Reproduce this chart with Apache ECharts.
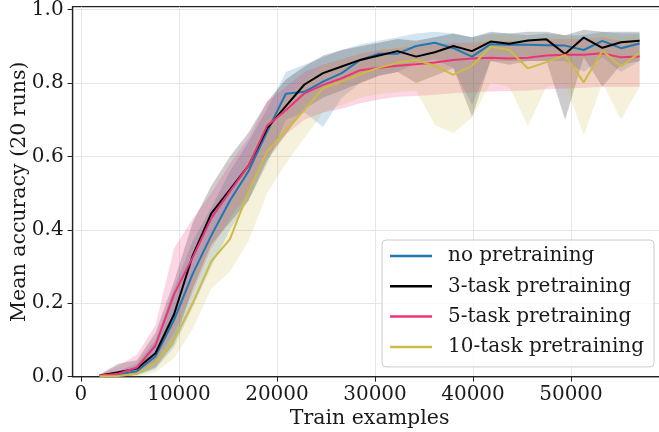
<!DOCTYPE html>
<html><head><meta charset="utf-8">
<script src="https://cdn.jsdelivr.net/npm/echarts@6/dist/echarts.min.js"></script>
<style>html,body{margin:0;padding:0;background:#fff}#c{width:659px;height:432px}</style>
</head><body><div id="c"></div>
<script>
const trainExamples = [1900,3800,5700,7600,9500,11400,13300,15200,17100,19000,20900,22800,24700,26600,28500,30400,32300,34200,36100,38000,39900,41800,43700,45600,47500,49400,51300,53200,55100,57000];
const xTicks = [0,10000,20000,30000,40000,50000];
const yTicks = [0,0.2,0.4,0.6,0.8,1.0];
const seriesNames = ['no pretraining','3-task pretraining','5-task pretraining','10-task pretraining'];

const noPretrainMean = [0.002,0.006,0.015,0.055,0.155,0.280,0.385,0.480,0.560,0.668,0.771,0.776,0.804,0.827,0.863,0.880,0.880,0.901,0.910,0.895,0.872,0.906,0.904,0.904,0.903,0.902,0.890,0.915,0.895,0.908];
const noPretrainHi   = [0.004,0.015,0.035,0.100,0.240,0.370,0.460,0.560,0.640,0.730,0.830,0.850,0.870,0.890,0.905,0.915,0.925,0.935,0.940,0.935,0.925,0.935,0.935,0.930,0.935,0.930,0.930,0.940,0.935,0.935];
const noPretrainLo   = [0.000,0.000,0.003,0.020,0.080,0.190,0.300,0.400,0.480,0.580,0.700,0.720,0.680,0.760,0.800,0.820,0.830,0.855,0.865,0.840,0.740,0.860,0.860,0.860,0.860,0.860,0.830,0.870,0.830,0.860];

const task3Mean = [0.003,0.012,0.022,0.064,0.170,0.330,0.445,0.510,0.575,0.677,0.737,0.796,0.827,0.845,0.863,0.875,0.887,0.872,0.884,0.901,0.887,0.913,0.907,0.916,0.919,0.879,0.924,0.896,0.911,0.915];
const task3Hi   = [0.006,0.035,0.045,0.120,0.260,0.420,0.520,0.600,0.665,0.750,0.810,0.845,0.875,0.890,0.900,0.910,0.920,0.915,0.925,0.935,0.925,0.940,0.935,0.940,0.940,0.930,0.945,0.940,0.940,0.940];
const task3Lo   = [0.000,0.000,0.005,0.025,0.090,0.240,0.360,0.420,0.480,0.590,0.660,0.730,0.760,0.780,0.800,0.820,0.830,0.800,0.820,0.840,0.708,0.860,0.850,0.860,0.860,0.700,0.870,0.790,0.850,0.860];

const task5Mean = [0.003,0.008,0.025,0.085,0.225,0.325,0.432,0.505,0.575,0.684,0.726,0.772,0.795,0.813,0.835,0.842,0.847,0.851,0.856,0.863,0.867,0.869,0.867,0.869,0.875,0.877,0.877,0.881,0.870,0.872];
const task5Hi   = [0.006,0.030,0.060,0.140,0.350,0.430,0.500,0.580,0.650,0.750,0.790,0.830,0.850,0.865,0.880,0.890,0.895,0.900,0.905,0.910,0.910,0.915,0.915,0.915,0.920,0.920,0.920,0.925,0.915,0.920];
const task5Lo   = [0.000,0.000,0.005,0.040,0.120,0.230,0.350,0.430,0.500,0.600,0.660,0.700,0.720,0.730,0.745,0.755,0.763,0.765,0.768,0.772,0.775,0.777,0.778,0.780,0.783,0.785,0.787,0.790,0.790,0.790];

const task10Mean = [0.001,0.002,0.008,0.038,0.100,0.200,0.315,0.375,0.505,0.613,0.670,0.727,0.786,0.804,0.824,0.842,0.855,0.863,0.847,0.822,0.847,0.899,0.890,0.840,0.857,0.876,0.802,0.888,0.845,0.883];
const task10Hi   = [0.003,0.006,0.020,0.060,0.160,0.280,0.390,0.470,0.600,0.700,0.760,0.810,0.850,0.865,0.880,0.890,0.900,0.910,0.910,0.905,0.910,0.930,0.930,0.920,0.925,0.930,0.915,0.935,0.925,0.930];
const task10Lo   = [0.000,0.000,0.000,0.012,0.050,0.130,0.240,0.286,0.370,0.500,0.580,0.650,0.720,0.740,0.760,0.770,0.775,0.780,0.686,0.664,0.706,0.800,0.790,0.683,0.790,0.800,0.658,0.800,0.700,0.790];

const colors = ['#1f77b4','#000000','#ee3377','#ccbb44'];
const bandColors = ['rgba(31,119,180,0.2)','rgba(0,0,0,0.2)','rgba(238,51,119,0.2)','rgba(204,187,68,0.2)'];
const means = [noPretrainMean, task3Mean, task5Mean, task10Mean];
const his = [noPretrainHi, task3Hi, task5Hi, task10Hi];
const los = [noPretrainLo, task3Lo, task5Lo, task10Lo];

const FONT = 'DejaVu Serif';

function bandSeries(idx) {
  return {
    type: 'custom',
    name: seriesNames[idx] + ' band',
    data: trainExamples.map((x, i) => [x, los[idx][i], his[idx][i]]),
    encode: { x: 0, y: [1, 2] },
    clip: true,
    silent: true,
    z: 1,
    animation: false,
    renderItem: function (params, api) {
      if (params.dataIndex !== 0) return null;
      const n = trainExamples.length;
      const top = [], bot = [];
      for (let i = 0; i < n; i++) {
        top.push(api.coord([api.value(0, i), api.value(2, i)]));
        bot.push(api.coord([api.value(0, i), api.value(1, i)]));
      }
      return {
        type: 'polygon',
        shape: { points: top.concat(bot.reverse()) },
        style: { fill: bandColors[idx], stroke: null }
      };
    }
  };
}

function lineSeries(idx) {
  return {
    type: 'line',
    name: seriesNames[idx],
    data: trainExamples.map((x, i) => [x, means[idx][i]]),
    showSymbol: false,
    symbol: 'none',
    color: colors[idx],
    lineStyle: { width: 2, color: colors[idx] },
    z: 3,
    animation: false
  };
}

const chart = echarts.init(document.getElementById('c'), null, { renderer: 'canvas' });
chart.setOption({
  animation: false,
  backgroundColor: '#ffffff',
  textStyle: { fontFamily: FONT },
  grid: {
    left: 72.6, right: -7.6, top: 6.7, bottom: 55.3,
    outerBoundsMode: 'none', containLabel: false,
    show: true, borderColor: '#222222', borderWidth: 1.25, backgroundColor: 'transparent'
  },
  xAxis: {
    type: 'value', min: -855, max: 59755,
    name: 'Train examples', nameLocation: 'middle', nameGap: 31, nameMoveOverlap: false,
    nameTextStyle: { fontFamily: FONT, fontSize: 20.5, color: '#1a1a1a' },
    axisLine: { show: true, onZero: false, lineStyle: { color: '#222222', width: 1.25 } },
    axisTick: { show: true, length: 5, customValues: xTicks, lineStyle: { color: '#222222', width: 1 } },
    axisLabel: { customValues: xTicks, fontFamily: FONT, fontSize: 20, color: '#1a1a1a', margin: 8,
      formatter: v => String(v) },
    splitLine: { show: true, lineStyle: { color: '#e6e6e6', width: 1 } }
  },
  yAxis: {
    type: 'value', min: 0, max: 1.008,
    name: 'Mean accuracy (20 runs)', nameLocation: 'middle', nameGap: 42, nameMoveOverlap: false,
    nameTextStyle: { fontFamily: FONT, fontSize: 20.5, color: '#1a1a1a' },
    axisLine: { show: true, onZero: false, lineStyle: { color: '#222222', width: 1.25 } },
    axisTick: { show: true, length: 5, customValues: yTicks, lineStyle: { color: '#222222', width: 1 } },
    axisLabel: { customValues: yTicks, fontFamily: FONT, fontSize: 20, color: '#1a1a1a', margin: 9,
      formatter: v => v.toFixed(1) },
    splitLine: { show: true, lineStyle: { color: '#e6e6e6', width: 1 } }
  },
  legend: {
    data: seriesNames,
    orient: 'vertical',
    left: 382, top: 240,
    padding: [4, 10, 8, 8],
    itemGap: 6.3,
    itemWidth: 42, itemHeight: 2.5,
    icon: 'rect',
    backgroundColor: 'rgba(255,255,255,0.8)',
    borderColor: '#cccccc', borderWidth: 1, borderRadius: 4,
    textStyle: { fontFamily: FONT, fontSize: 20, color: '#1a1a1a', lineHeight: 24, padding: [0, 0, 0, 11] }
  },
  series: [bandSeries(0), bandSeries(1), bandSeries(2), bandSeries(3),
           lineSeries(0), lineSeries(1), lineSeries(2), lineSeries(3)]
});
</script>
</body></html>
